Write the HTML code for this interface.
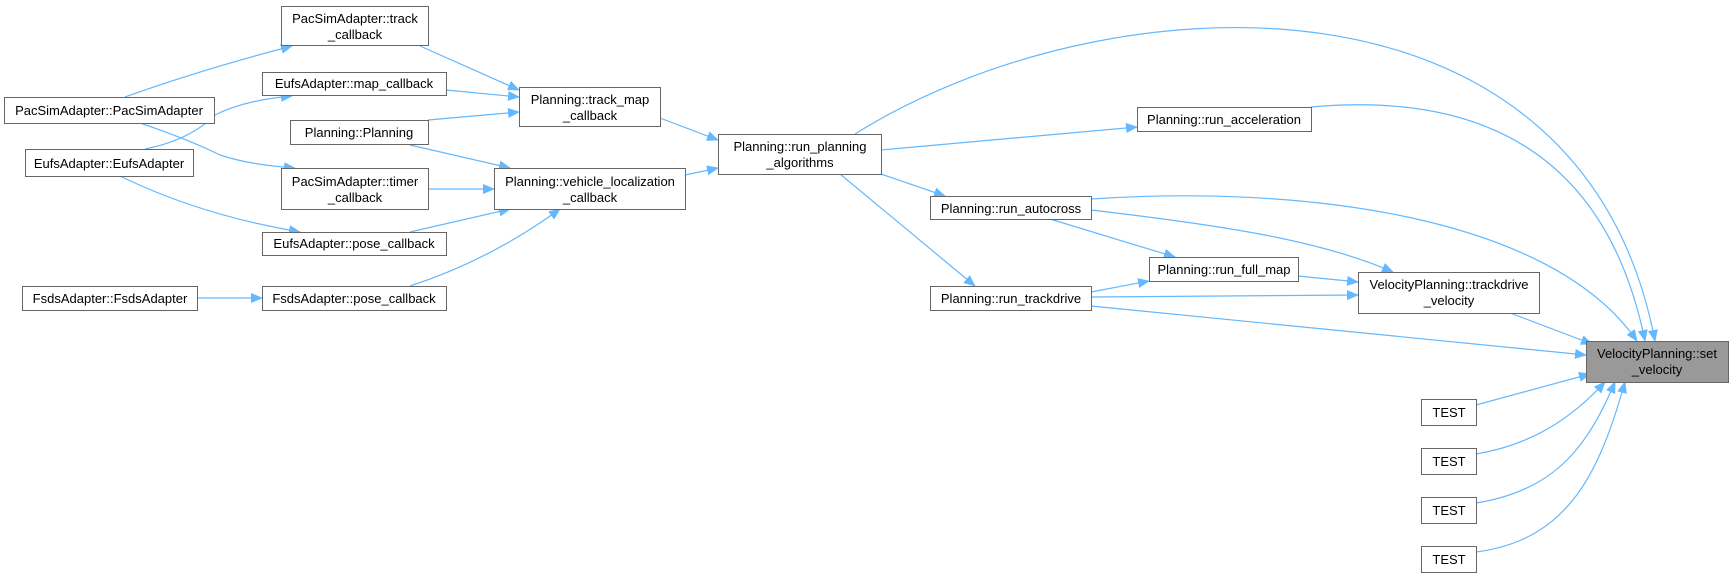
<!DOCTYPE html>
<html><head><meta charset="utf-8"><style>
html,body{margin:0;padding:0;background:#fff;}
svg text{font-family:"Liberation Sans",Arial,sans-serif;font-size:13px;fill:#000;}
</style></head><body>
<svg width="1733" height="579" viewBox="0 0 1733 579" xmlns="http://www.w3.org/2000/svg">
<defs>
<marker id="a" markerUnits="userSpaceOnUse" markerWidth="12" markerHeight="10" refX="11" refY="5" orient="auto">
<path d="M0,0 L12,5 L0,10 z" fill="#63b8ff"/>
</marker>
</defs>
<g fill="none" stroke="#63b8ff" stroke-width="1.2" marker-end="url(#a)">
<path d="M125,97 Q200,70 292,46"/>
<path d="M140,123 Q190,140 220,155 Q250,165 295,168"/>
<path d="M145,149 Q190,140 215,115 Q245,100 292,96"/>
<path d="M120,176 Q200,215 300,232"/>
<path d="M197,298 L262,298"/>
<path d="M420,46 L519,90"/>
<path d="M446,90 L519,97"/>
<path d="M428,120 L519,112"/>
<path d="M410,145 L510,168"/>
<path d="M428,189 L494,189"/>
<path d="M410,232 L510,209"/>
<path d="M410,286 Q490,260 560,209"/>
<path d="M660,118 L718,140"/>
<path d="M685,175 L718,168"/>
<path d="M881,150 L1137,127"/>
<path d="M881,174 L945,196"/>
<path d="M840,174 L975,286"/>
<path d="M855,134 C1100,-20 1580,-50 1655,341"/>
<path d="M1311,107 C1500,90 1610,170 1645,341"/>
<path d="M1091,199 C1300,185 1550,215 1637,341"/>
<path d="M1091,210 C1220,225 1320,240 1393,272"/>
<path d="M1050,219 L1175,257"/>
<path d="M1091,292 L1149,281"/>
<path d="M1298,276 L1358,282"/>
<path d="M1091,297 Q1250,296 1358,295"/>
<path d="M1091,306 L1586,355"/>
<path d="M1510,313 L1592,344"/>
<path d="M1476,405 L1590,374"/>
<path d="M1476,454 C1530,445 1570,420 1605,382"/>
<path d="M1476,503 C1560,490 1590,440 1615,382"/>
<path d="M1476,552 C1570,540 1600,470 1625,382"/>
</g>
<g stroke="#666" stroke-width="1" fill="#fff">
<rect x="281.5" y="6.5" width="147" height="39"/>
<rect x="262.5" y="72.5" width="184" height="23"/>
<rect x="290.5" y="120.5" width="138" height="24"/>
<rect x="281.5" y="168.5" width="147" height="41"/>
<rect x="262.5" y="232.5" width="184" height="23"/>
<rect x="262.5" y="286.5" width="184" height="24"/>
<rect x="4.5" y="97.5" width="210" height="26"/>
<rect x="25.5" y="149.5" width="168" height="27"/>
<rect x="22.5" y="286.5" width="175" height="24"/>
<rect x="519.5" y="87.5" width="141" height="39"/>
<rect x="494.5" y="168.5" width="191" height="41"/>
<rect x="718.5" y="134.5" width="163" height="40"/>
<rect x="1137.5" y="107.5" width="174" height="24"/>
<rect x="930.5" y="196.5" width="161" height="23"/>
<rect x="1149.5" y="257.5" width="149" height="24"/>
<rect x="930.5" y="286.5" width="161" height="24"/>
<rect x="1358.5" y="272.5" width="181" height="41"/>
<rect x="1586.5" y="341.5" width="142" height="41" fill="#999"/>
<rect x="1421.5" y="399.5" width="55" height="26"/>
<rect x="1421.5" y="448.5" width="55" height="26"/>
<rect x="1421.5" y="497.5" width="55" height="26"/>
<rect x="1421.5" y="546.5" width="55" height="26"/>
</g>
<g text-anchor="middle">
<text x="355" y="23">PacSimAdapter::track</text><text x="355" y="39">_callback</text>
<text x="354" y="88">EufsAdapter::map_callback</text>
<text x="359" y="137">Planning::Planning</text>
<text x="355" y="186">PacSimAdapter::timer</text><text x="355" y="202">_callback</text>
<text x="354" y="248">EufsAdapter::pose_callback</text>
<text x="354" y="303">FsdsAdapter::pose_callback</text>
<text x="109" y="115">PacSimAdapter::PacSimAdapter</text>
<text x="109" y="168">EufsAdapter::EufsAdapter</text>
<text x="110" y="303">FsdsAdapter::FsdsAdapter</text>
<text x="590" y="104">Planning::track_map</text><text x="590" y="120">_callback</text>
<text x="590" y="186">Planning::vehicle_localization</text><text x="590" y="202">_callback</text>
<text x="800" y="151">Planning::run_planning</text><text x="800" y="167">_algorithms</text>
<text x="1224" y="124">Planning::run_acceleration</text>
<text x="1011" y="213">Planning::run_autocross</text>
<text x="1224" y="274">Planning::run_full_map</text>
<text x="1011" y="303">Planning::run_trackdrive</text>
<text x="1449" y="289">VelocityPlanning::trackdrive</text><text x="1449" y="305">_velocity</text>
<text x="1657" y="358">VelocityPlanning::set</text><text x="1657" y="374">_velocity</text>
<text x="1449" y="417">TEST</text>
<text x="1449" y="466">TEST</text>
<text x="1449" y="515">TEST</text>
<text x="1449" y="564">TEST</text>
</g>
</svg>
</body></html>
